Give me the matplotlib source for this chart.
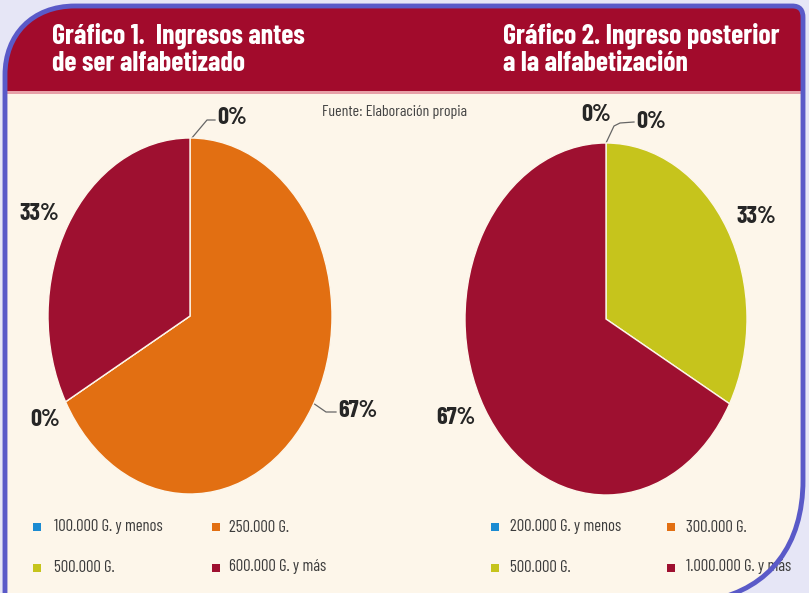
import matplotlib
matplotlib.use("Agg")
import matplotlib.pyplot as plt
from matplotlib.patches import PathPatch, Rectangle
from matplotlib.path import Path

# ---- data ----
cats1 = ["100.000 G. y menos", "250.000 G.", "500.000 G.", "600.000 G. y más"]
vals1 = [0, 67, 0, 33]
cats2 = ["200.000 G. y menos", "300.000 G.", "500.000 G.", "1.000.000 G. y más"]
vals2 = [0, 0, 33, 67]
colors = ["#1b8bd2", "#e26f12", "#c6c41c", "#9e1030"]
title1 = "Gráfico 1.  Ingresos antes\nde ser alfabetizado"
title2 = "Gráfico 2. Ingreso posterior\na la alfabetización"
source = "Fuente: Elaboración propia"

W, H = 809, 593
plt.rcParams["font.family"] = ["Barlow Condensed", "DejaVu Sans"]

fig = plt.figure(figsize=(W / 100, H / 100), dpi=100)
fig.patch.set_facecolor("#e6e6f6")

bg = fig.add_axes([0, 0, 1, 1])
bg.set_xlim(0, W)
bg.set_ylim(H, 0)
bg.axis("off")

# rounded frame path
verts = [(5, 600), (5, 75), (5, 35), (32, 6), (75, 6), (792, 6), (800, 6), (803, 10),
         (803, 18), (803, 480), (803, 545), (770, 588), (712, 600), (5, 600)]
codes = [Path.MOVETO, Path.LINETO, Path.CURVE4, Path.CURVE4, Path.CURVE4, Path.LINETO,
         Path.CURVE4, Path.CURVE4, Path.CURVE4, Path.LINETO, Path.CURVE4, Path.CURVE4,
         Path.CURVE4, Path.CLOSEPOLY]
fpath = Path(verts, codes)
frame = PathPatch(fpath, facecolor="#fdf6ea", edgecolor="none", zorder=1)
bg.add_patch(frame)
header = Rectangle((0, 8), W, 84, facecolor="#a20b2c", edgecolor="none", zorder=2)
bg.add_patch(header)
header.set_clip_path(frame)
line = Rectangle((0, 91), W, 2.5, facecolor="#e7a0a8", edgecolor="none", zorder=2)
bg.add_patch(line)
line.set_clip_path(frame)
bg.add_patch(PathPatch(fpath, facecolor="none", edgecolor="#5a5ac8", linewidth=3.5, zorder=5))

tkw = dict(color="white", fontsize=20, fontweight="bold", va="center", ha="left",
           linespacing=1.12, zorder=3)
bg.text(52, 49, title1, **tkw)
bg.text(503, 49, title2, **tkw)
bg.text(322, 112, source, color="#444444", fontsize=11.5, fontweight="normal",
        va="center", ha="left", zorder=3)


def draw_pie(vals, cx, cy, rx, ry):
    ax = fig.add_axes([(cx - rx) / W, 1 - (cy + ry) / H, 2 * rx / W, 2 * ry / H])
    ax.pie(vals, colors=colors, startangle=90, counterclock=False,
           wedgeprops=dict(edgecolor="#fdf6ea", linewidth=1.0))
    ax.set_aspect("auto")
    ax.set_xlim(-1, 1)
    ax.set_ylim(-1, 1)
    ax.axis("off")
    return ax


draw_pie(vals1, 190, 316, 142, 178)
draw_pie(vals2, 606, 319, 141, 176)

lab = dict(fontsize=17.5, fontweight="bold", color="#262626", va="center", zorder=4)
lc = dict(color="#666666", lw=0.9, zorder=4)
# pie 1 labels
bg.text(217, 118, f"{vals1[0]}%", ha="left", **lab)
bg.plot([191, 207, 215], [139, 120, 120], **lc)
bg.text(20, 214, f"{vals1[3]}%", ha="left", **lab)
bg.text(30, 420, f"{vals1[2]}%", ha="left", **lab)
bg.text(338, 411, f"{vals1[1]}%", ha="left", **lab)
bg.plot([313, 326, 336], [403, 412, 412], **lc)
# pie 2 labels
bg.text(581, 115, f"{vals2[0]}%", ha="left", **lab)
bg.text(636, 122, f"{vals2[1]}%", ha="left", **lab)
bg.plot([606, 614, 620, 634], [143, 126, 123, 122], **lc)
bg.text(737, 217, f"{vals2[2]}%", ha="left", **lab)
bg.text(436, 418, f"{vals2[3]}%", ha="left", **lab)


def legend(cats, xm0, xt0, xm1, xt1):
    rows = [(527, 527), (567, 568)]
    pos = [(xm0, xt0, rows[0]), (xm1, xt1, rows[0]), (xm0, xt0, rows[1]), (xm1, xt1, rows[1])]
    for (xm, xt, (yt, ym)), c, col in zip(pos, cats, colors):
        bg.add_patch(Rectangle((xm - 4, ym - 4), 8, 8, facecolor=col, edgecolor="none", zorder=3))
        bg.text(xt, yt, c, fontsize=12, fontweight="normal", color="#3c3c3c",
                va="center", ha="left", zorder=3)


legend(cats1, 37, 54, 216, 229)
legend(cats2, 495, 510, 671, 686)

fig.savefig("out.png", dpi=100, facecolor=fig.get_facecolor())
